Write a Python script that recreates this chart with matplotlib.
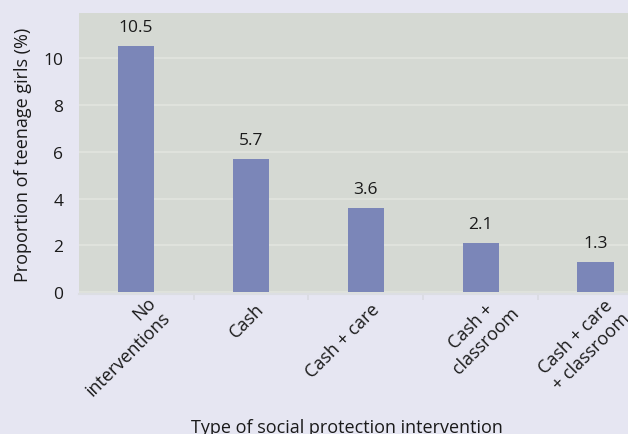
import matplotlib
matplotlib.use("Agg")
import matplotlib.pyplot as plt
import matplotlib.transforms as mtransforms
import math

plt.rcParams['font.family'] = ['Open Sans', 'DejaVu Sans']

categories = ["No\ninterventions", "Cash", "Cash + care", "Cash +\nclassroom", "Cash + care\n+ classroom"]
values = [10.5, 5.7, 3.6, 2.1, 1.3]
value_labels = ["10.5", "5.7", "3.6", "2.1", "1.3"]
yticks = [0, 2, 4, 6, 8, 10]

# label styling (line alignment and shift along the text direction, in px)
label_align = ["right", "center", "center", "center", "center"]
label_shift_px = [9, 0, 0, 15, 8]

fig_bg = "#e6e6f2"
ax_bg = "#d5d9d3"
bar_color = "#7b86b8"
grid_color = "#e2e4df"
text_color = "#1a1a1a"

fig = plt.figure(figsize=(6.28, 4.35), dpi=100, facecolor=fig_bg)
# axes deliberately extends past the right edge of the figure (clipped, as in the reference)
ax = fig.add_axes([0.1253, 0.3218, 0.9145, 0.646])
ax.set_facecolor(ax_bg)

x = list(range(len(categories)))
ax.bar(x, values, width=0.315, color=bar_color, zorder=3)
for xi, v, lab in zip(x, values, value_labels):
    ax.annotate(lab, (xi, v), xytext=(0, 8), textcoords="offset points",
                ha="center", va="bottom", fontsize=12.5, color=text_color)

ax.set_xlim(-0.5, len(categories) - 0.5)
ax.set_ylim(-0.08, 11.93)
ax.set_yticks(yticks)
ax.set_yticklabels([str(t) for t in yticks], fontsize=12.5, color=text_color)
ax.tick_params(axis="y", length=0, pad=11)
ax.grid(axis="y", color=grid_color, linewidth=1.2, zorder=0)

ax.set_xticks(x)
ax.set_xticklabels(categories, rotation=45, ha="right", va="top",
                   rotation_mode="anchor", fontsize=13, color=text_color)
ax.tick_params(axis="x", length=0, pad=4)
c = math.cos(math.radians(45))
for lbl, al, s in zip(ax.get_xticklabels(), label_align, label_shift_px):
    lbl.set_multialignment(al)
    dx = (3 / 72) + s * c / fig.dpi
    dy = s * c / fig.dpi
    lbl.set_transform(lbl.get_transform() + mtransforms.ScaledTranslation(dx, dy, fig.dpi_scale_trans))
ax.set_xticks([i + 0.5 for i in range(len(categories) - 1)], minor=True)
ax.tick_params(axis="x", which="minor", length=4, color="#d9dbe2", width=1.2)

for side in ["top", "right", "left"]:
    ax.spines[side].set_visible(False)
ax.spines["bottom"].set_color("#dcdee3")
ax.spines["bottom"].set_linewidth(1.5)

ax.set_ylabel("Proportion of teenage girls (%)", fontsize=13, color=text_color, labelpad=8)
ax.set_xlabel("Type of social protection intervention", fontsize=13, color=text_color)
ax.xaxis.set_label_coords(0.467, -0.44)

fig.savefig("out.png", dpi=100, facecolor=fig_bg)
